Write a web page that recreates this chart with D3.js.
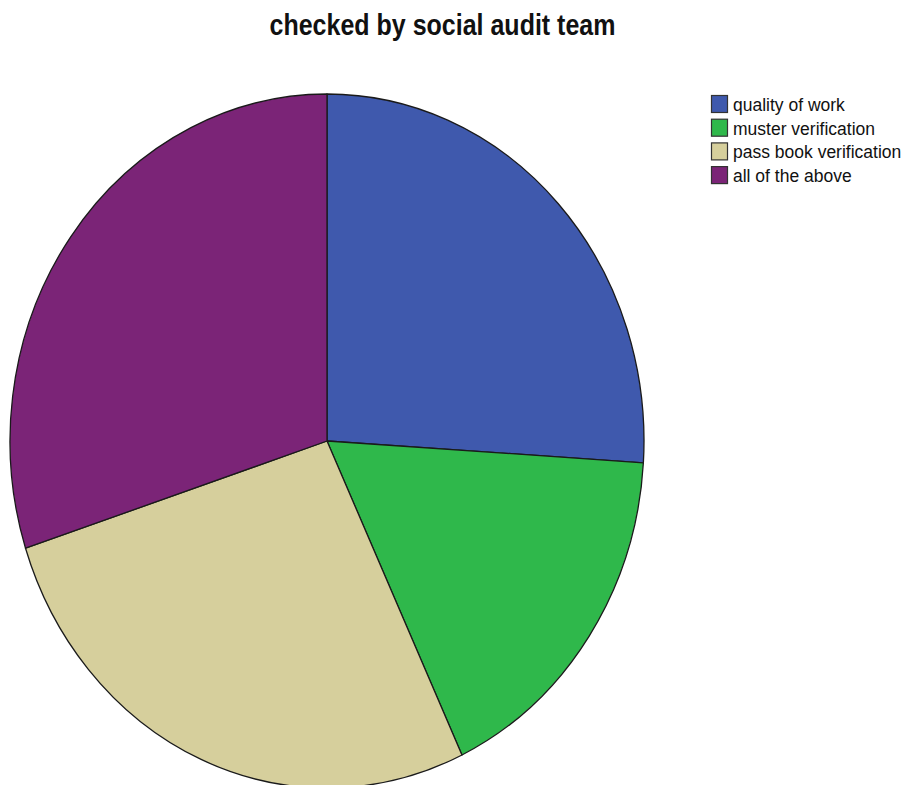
<!DOCTYPE html>
<html>
<head>
<meta charset="utf-8">
<script src="https://cdn.jsdelivr.net/npm/d3@7"></script>
<style>
  html, body { margin: 0; padding: 0; background: #ffffff; }
  svg { display: block; }
</style>
</head>
<body>
<svg id="chart" width="905" height="785"></svg>
<script>
// Answers to "checked by social audit team" (percent of respondents)
const categories = ["quality of work", "muster verification", "pass book verification", "all of the above"];
const values = [26, 17, 27, 30];
const colors = ["#3f59ad", "#2fb84b", "#d6cf9c", "#7b2477"];
const title = "checked by social audit team";

const svg = d3.select("#chart");

// Pie geometry: drawn as a circle, then stretched horizontally into an ellipse
const cx = 327, cy = 441, ry = 347, rx = 317;

// Title (slightly tall letterforms)
svg.append("text")
  .attr("transform", "translate(442.5,35) scale(1,1.15)")
  .attr("text-anchor", "middle")
  .attr("font-family", "Liberation Sans, Arial, sans-serif")
  .attr("font-weight", "bold")
  .attr("font-size", 25)
  .attr("fill", "#111")
  .text(title);

const pie = d3.pie().sort(null).value(d => d)(values);
const arc = d3.arc().innerRadius(0).outerRadius(ry);

const g = svg.append("g")
  .attr("transform", `translate(${cx},${cy}) scale(${rx / ry},1)`);

g.selectAll("path")
  .data(pie)
  .join("path")
  .attr("d", arc)
  .attr("fill", (d, i) => colors[i])
  .attr("stroke", "#1a1a1a")
  .attr("stroke-width", 1.3)
  .attr("vector-effect", "non-scaling-stroke")
  .attr("stroke-linejoin", "round");

// Legend
const legend = svg.append("g").attr("transform", "translate(711,95)");
const rowH = 23.7;
const items = legend.selectAll("g")
  .data(categories)
  .join("g")
  .attr("transform", (d, i) => `translate(0,${i * rowH})`);

items.append("rect")
  .attr("x", 0.5)
  .attr("y", 0.5)
  .attr("width", 16)
  .attr("height", 17)
  .attr("fill", (d, i) => colors[i])
  .attr("stroke", "#333")
  .attr("stroke-width", 1.2);

items.append("text")
  .attr("x", 22)
  .attr("y", 16)
  .attr("font-family", "Liberation Sans, Arial, sans-serif")
  .attr("font-size", 17.5)
  .attr("fill", "#111")
  .text(d => d);
</script>
</body>
</html>
